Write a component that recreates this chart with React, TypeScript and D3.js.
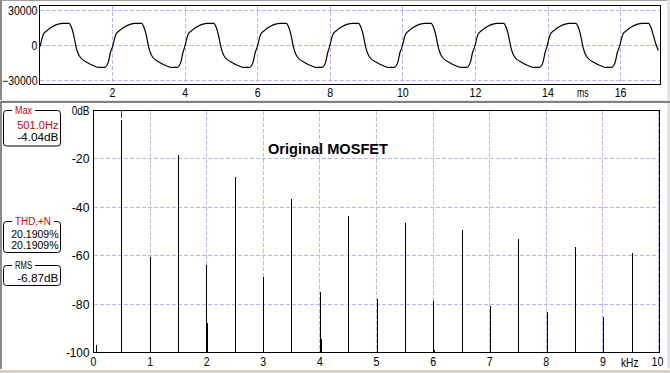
import React from 'react';
import * as d3 from 'd3';

// ---- Waveform (top panel) ----
const waveTimeMs = [
  0, 0.04, 0.09, 0.20, 0.35, 0.50, 0.62, 0.80, 0.86, 0.92, 1.00, 1.06, 1.12, 1.30, 1.50, 1.62, 1.78, 1.88, 1.94,
  2.00, 2.04, 2.09, 2.20, 2.35, 2.50, 2.62, 2.80, 2.86, 2.92, 3.00, 3.06, 3.12, 3.30, 3.50, 3.62, 3.78, 3.88, 3.94,
  3.99, 4.03, 4.08, 4.19, 4.34, 4.49, 4.61, 4.79, 4.85, 4.91, 4.99, 5.05, 5.11, 5.29, 5.49, 5.61, 5.77, 5.87, 5.93,
  5.99, 6.03, 6.08, 6.19, 6.34, 6.49, 6.61, 6.79, 6.85, 6.91, 6.99, 7.05, 7.11, 7.29, 7.49, 7.61, 7.77, 7.87, 7.93,
  7.98, 8.02, 8.07, 8.18, 8.33, 8.48, 8.60, 8.78, 8.84, 8.90, 8.98, 9.04, 9.10, 9.28, 9.48, 9.60, 9.76, 9.86, 9.92,
  9.98, 10.02, 10.07, 10.18, 10.33, 10.48, 10.60, 10.78, 10.84, 10.90, 10.98, 11.04, 11.10, 11.28, 11.48, 11.60, 11.76, 11.86, 11.92,
  11.98, 12.02, 12.07, 12.18, 12.33, 12.48, 12.60, 12.78, 12.84, 12.90, 12.98, 13.04, 13.10, 13.28, 13.48, 13.60, 13.76, 13.86, 13.92,
  13.97, 14.01, 14.06, 14.17, 14.32, 14.47, 14.59, 14.77, 14.83, 14.89, 14.97, 15.03, 15.09, 15.27, 15.47, 15.59, 15.75, 15.85, 15.91,
  15.97, 16.01, 16.06, 16.17, 16.32, 16.47, 16.59, 16.77, 16.83, 16.89, 16.97, 17.04,
];
const waveValue = [
  -1000, 4000, 9500, 13000, 16300, 18300, 19000, 19000, 16000, 10000, -2000, -7500, -10500, -14500, -17600, -18800, -18800, -14500, -6000,
  -1000, 4000, 9500, 13000, 16300, 18300, 19000, 19000, 16000, 10000, -2000, -7500, -10500, -14500, -17600, -18800, -18800, -14500, -6000,
  -1000, 4000, 9500, 13000, 16300, 18300, 19000, 19000, 16000, 10000, -2000, -7500, -10500, -14500, -17600, -18800, -18800, -14500, -6000,
  -1000, 4000, 9500, 13000, 16300, 18300, 19000, 19000, 16000, 10000, -2000, -7500, -10500, -14500, -17600, -18800, -18800, -14500, -6000,
  -1000, 4000, 9500, 13000, 16300, 18300, 19000, 19000, 16000, 10000, -2000, -7500, -10500, -14500, -17600, -18800, -18800, -14500, -6000,
  -1000, 4000, 9500, 13000, 16300, 18300, 19000, 19000, 16000, 10000, -2000, -7500, -10500, -14500, -17600, -18800, -18800, -14500, -6000,
  -1000, 4000, 9500, 13000, 16300, 18300, 19000, 19000, 16000, 10000, -2000, -7500, -10500, -14500, -17600, -18800, -18800, -14500, -6000,
  -1000, 4000, 9500, 13000, 16300, 18300, 19000, 19000, 16000, 10000, -2000, -7500, -10500, -14500, -17600, -18800, -18800, -14500, -6000,
  -1000, 4000, 9500, 13000, 16300, 18300, 19000, 19000, 16000, 10000, 1500, -4300,
];
const waveXTicks = [2, 4, 6, 8, 10, 12, 14, 16];
const waveYTicks = [30000, 0, -30000];
const waveXUnit = 'ms';

// ---- Spectrum (bottom panel) ----
const specFreqKHz = [0.06, 0.501, 1.002, 1.503, 2.004, 2.016, 2.505, 3.006, 3.507, 4.008, 4.02, 4.509, 5.01, 5.511, 6.012, 6.024, 6.513, 7.014, 7.515, 8.016, 8.517, 9.018, 9.519];
const specLevelDb = [-97, -4.04, -60.7, -18.3, -63.8, -88, -27.4, -68.7, -36.5, -74.8, -94.6, -43.5, -77.8, -46.4, -78.9, -98.8, -49.3, -80.6, -53.0, -83.1, -56.3, -85.2, -58.8];
const specXTicks = [0, 1, 2, 3, 4, 5, 6, 7, 8, 9, 10];
const specYTicks = [0, -20, -40, -60, -80, -100];
const specYLabels = ['0dB', '-20', '-40', '-60', '-80', '-100'];
const specXUnit = 'kHz';
const peakFreqKHz = 0.501;
const chartTitle = 'Original MOSFET';

// ---- Info boxes ----
const maxTitle = 'Max';
const maxLines = ['501.0Hz', '-4.04dB'];
const thdTitle = 'THD,+N';
const thdLines = ['20.1909%', '20.1909%'];
const rmsTitle = 'RMS';
const rmsLines = ['-6.87dB'];

const FONT = "'Liberation Sans', Arial, sans-serif";
const RED = '#d40000';
const GRID = '#b4b4ff';

function T(props: { x: number; y: number; s: string; anchor?: string; fill?: string; size?: number; cw?: number; weight?: string; len?: number }) {
  const { x, y, s, anchor = 'start', fill = '#000', size = 12, cw = 5.9, weight, len } = props;
  return (
    <text x={x} y={y} textAnchor={anchor as any} fill={fill} fontSize={size} fontFamily={FONT} fontWeight={weight}
      textLength={len ?? s.length * cw} lengthAdjust="spacingAndGlyphs">{s}</text>
  );
}

function InfoBox(props: { top: number; bottom: number; title: string; titleColor: string; titleW: number; lines: string[]; colors: string[]; baselines: number[] }) {
  const { top, bottom, title, titleColor, titleW, lines, colors, baselines } = props;
  return (
    <g>
      <rect x={3.5} y={top} width={57} height={bottom - top} rx={3} ry={3} fill="none" stroke="#000" />
      <rect x={12} y={top - 3} width={titleW + 6} height={6} fill="#fff" />
      <T x={15} y={top + 3.5} s={title} fill={titleColor} len={titleW} size={10} />
      {lines.map((l, i) => (
        <T key={i} x={58.5} y={baselines[i]} s={l} anchor="end" fill={colors[i]} size={10} />
      ))}
    </g>
  );
}

export default function App() {
  const W = 670, H = 373;
  // top panel
  const tx = d3.scaleLinear().domain([0, 17.1]).range([40, 660.5]);
  const ty = d3.scaleLinear().domain([-30000, 30000]).range([80.5, 10.5]);
  const line = d3.line<number>().x((_, i) => tx(waveTimeMs[i])).y((d) => ty(d)).curve(d3.curveMonotoneX);
  // bottom panel
  const sx = d3.scaleLinear().domain([0, 10]).range([93.5, 659.5]);
  const sy = d3.scaleLinear().domain([-100, 0]).range([352.5, 110.5]);
  const crisp = (v: number) => Math.round(v - 0.5) + 0.5;

  return (
    <svg width={W} height={H} style={{ position: 'absolute', left: 0, top: 0, display: 'block', background: '#fff' }}>
      {/* chrome */}
      <rect x={0} y={0} width={W} height={H} fill="#fff" />
      <rect x={0} y={0} width={W} height={1} fill="#a0a0a0" />
      <rect x={0} y={0} width={2} height={H} fill="#8a8a8a" />
      <rect x={667} y={0} width={3} height={H} fill="#e4e4e4" />
      <rect x={0} y={100} width={W} height={1} fill="#e8e8e8" />
      <rect x={0} y={101} width={W} height={2} fill="#808080" />
      <rect x={0} y={369} width={W} height={1} fill="#ffffff" />
      <rect x={0} y={370} width={W} height={3} fill="#d4d0c8" />

      {/* ===== top panel ===== */}
      <g shapeRendering="crispEdges">
        {waveXTicks.map((t) => (
          <line key={t} x1={crisp(tx(t))} x2={crisp(tx(t))} y1={5.5} y2={84.5} stroke={GRID} strokeDasharray="4 2" />
        ))}
        {waveYTicks.map((v) => (
          <line key={v} x1={39.5} x2={660.5} y1={crisp(ty(v))} y2={crisp(ty(v))} stroke={GRID} strokeDasharray="4 2" />
        ))}
        <rect x={39.5} y={5.5} width={621} height={79} fill="none" stroke="#000" />
      </g>
      <path d={line(waveValue) || ''} fill="none" stroke="#000" strokeWidth={1.2} />
      {waveYTicks.map((v) => (
        <T key={v} x={37.5} y={ty(v) + 4.5} s={d3.format('d')(v)} anchor="end" />
      ))}
      {waveXTicks.map((t) => (
        <T key={t} x={tx(t)} y={96.5} s={String(t)} anchor="middle" />
      ))}
      <T x={577} y={97} s={waveXUnit} len={11.5} />

      {/* ===== bottom panel ===== */}
      <g shapeRendering="crispEdges">
        {specXTicks.slice(1).map((t) => (
          <line key={t} x1={crisp(sx(t)) - (t === 10 ? 1 : 0)} x2={crisp(sx(t)) - (t === 10 ? 1 : 0)} y1={110.5} y2={352.5} stroke={GRID} strokeDasharray="4 2" />
        ))}
        {specYTicks.slice(1, -1).map((v) => (
          <line key={v} x1={93.5} x2={659.5} y1={crisp(sy(v))} y2={crisp(sy(v))} stroke={GRID} strokeDasharray="4 2" />
        ))}
        <rect x={93.5} y={110.5} width={566} height={242} fill="none" stroke="#000" />
        {specFreqKHz.map((f, i) => (
          <line key={i} x1={crisp(sx(f))} x2={crisp(sx(f))} y1={sy(-100)} y2={sy(specLevelDb[i])} stroke="#000" />
        ))}
        <line x1={crisp(sx(peakFreqKHz))} x2={crisp(sx(peakFreqKHz))} y1={111} y2={118} stroke={RED} />
      </g>
      {specYTicks.map((v, i) => (
        <T key={v} x={89.5} y={sy(v) + 4.5} s={specYLabels[i]} anchor="end" />
      ))}
      {specXTicks.map((t) => (
        <T key={t} x={sx(t) - (t === 10 ? 2 : 0)} y={366} s={String(t)} anchor="middle" />
      ))}
      <T x={621} y={367} s={specXUnit} len={17.5} />
      <T x={268} y={154} s={chartTitle} size={14} weight="bold" len={120} />

      {/* ===== info boxes ===== */}
      <InfoBox top={110.5} bottom={146} title={maxTitle} titleColor={RED} titleW={17} lines={maxLines} colors={[RED, '#000']} baselines={[128.5, 140.5]} />
      <InfoBox top={221.5} bottom={252.5} title={thdTitle} titleColor={RED} titleW={36} lines={thdLines} colors={['#000', '#000']} baselines={[237.5, 249]} />
      <InfoBox top={265.5} bottom={285.5} title={rmsTitle} titleColor={'#000'} titleW={17} lines={rmsLines} colors={['#000']} baselines={[281.5]} />
    </svg>
  );
}
